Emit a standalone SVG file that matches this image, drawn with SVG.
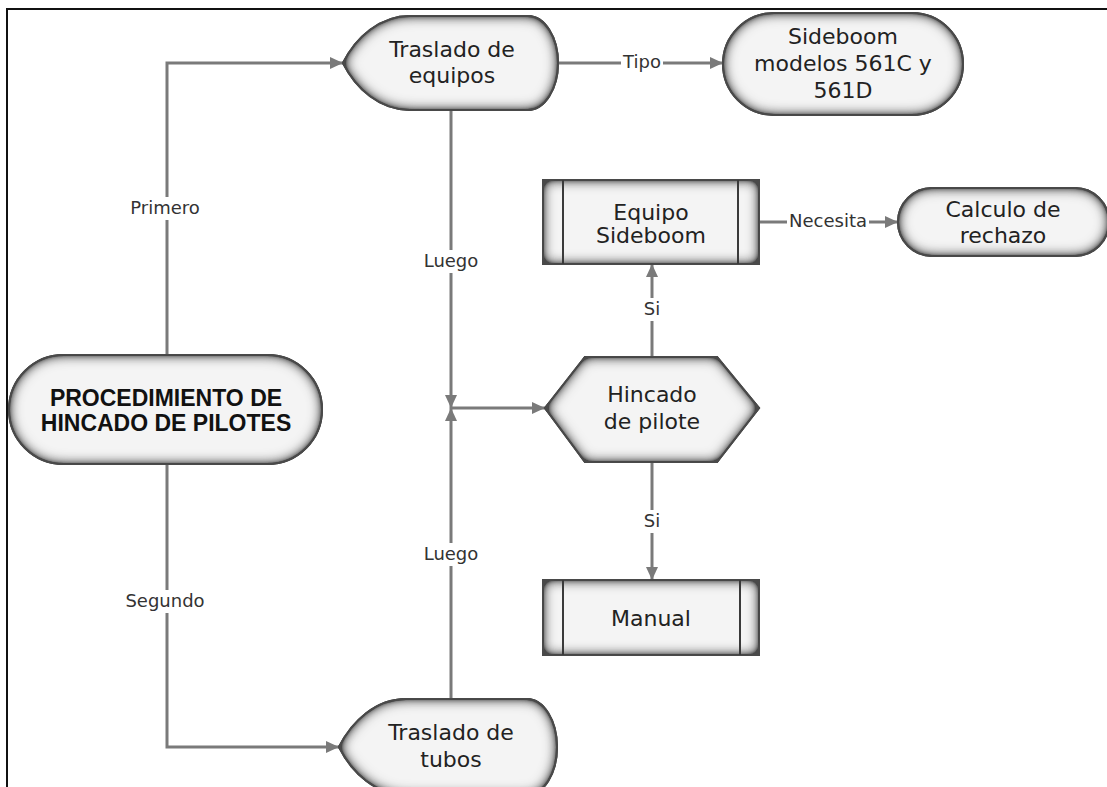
<svg xmlns="http://www.w3.org/2000/svg" width="1107" height="787" viewBox="0 0 1107 787">
  <defs>
    <style>
      .node { stroke: #3a3a3a; stroke-width: 2; fill: #f4f4f4; filter: url(#inset); }
      .inner { stroke: #3a3a3a; stroke-width: 2; fill: none; }
      .txt { font-family: "DejaVu Sans", "Liberation Sans", sans-serif; font-size: 22px; fill: #222; text-anchor: middle; }
      .title { font-family: "Liberation Sans", Arial, sans-serif; font-size: 23px; font-weight: bold; fill: #111; text-anchor: middle; }
      .wire { stroke: #7a7a7a; stroke-width: 3; fill: none; }
      .lbl { font-family: "DejaVu Sans", "Liberation Sans", sans-serif; font-size: 18px; fill: #333; text-anchor: middle; }
      .lblbg { fill: #ffffff; }
    </style>
    <!-- soft inner shadow along the inside of each shape outline -->
    <filter id="inset" x="-5%" y="-5%" width="110%" height="110%">
      <feGaussianBlur in="SourceAlpha" stdDeviation="7" result="blur"/>
      <feComposite in="SourceAlpha" in2="blur" operator="out" result="rim0"/>
      <feComponentTransfer in="rim0" result="rim">
        <feFuncA type="linear" slope="2.2" intercept="0"/>
      </feComponentTransfer>
      <feFlood flood-color="#4a4a4a"/>
      <feComposite in2="rim" operator="in" result="shadow"/>
      <feMerge>
        <feMergeNode in="SourceGraphic"/>
        <feMergeNode in="shadow"/>
      </feMerge>
    </filter>
    <marker id="arrow" markerUnits="userSpaceOnUse" markerWidth="13" markerHeight="12" refX="13" refY="6" orient="auto">
      <path d="M0,0 L13,6 L0,12 z" fill="#7a7a7a"/>
    </marker>
  </defs>

  <rect width="1107" height="787" fill="#ffffff"/>

  <!-- outer frame (top and left edges) -->
  <path d="M7,787 V9 H1107" fill="none" stroke="#111" stroke-width="2"/>

  <!-- connectors -->
  <g id="connectors">
    <path class="wire" d="M167,355 V63 H343" marker-end="url(#arrow)"/>
    <path class="wire" d="M167,464 V747 H339" marker-end="url(#arrow)"/>
    <path class="wire" d="M558,63 H723" marker-end="url(#arrow)"/>
    <path class="wire" d="M451,110 V408" marker-end="url(#arrow)"/>
    <path class="wire" d="M451,699 V408" marker-end="url(#arrow)"/>
    <path class="wire" d="M451,408 H545" marker-end="url(#arrow)"/>
    <path class="wire" d="M652,357 V264" marker-end="url(#arrow)"/>
    <path class="wire" d="M652,462 V580" marker-end="url(#arrow)"/>
    <path class="wire" d="M759,222 H898" marker-end="url(#arrow)"/>

    <rect class="lblbg" x="125" y="197" width="80" height="23"/>
    <text class="lbl" x="165" y="214">Primero</text>
    <rect class="lblbg" x="124" y="590" width="83" height="23"/>
    <text class="lbl" x="165" y="607">Segundo</text>
    <rect class="lblbg" x="421" y="250" width="60" height="23"/>
    <text class="lbl" x="451" y="267">Luego</text>
    <rect class="lblbg" x="421" y="543" width="60" height="23"/>
    <text class="lbl" x="451" y="560">Luego</text>
    <rect class="lblbg" x="641" y="298" width="22" height="23"/>
    <text class="lbl" x="652" y="315">Si</text>
    <rect class="lblbg" x="641" y="510" width="22" height="23"/>
    <text class="lbl" x="652" y="527">Si</text>
    <rect class="lblbg" x="621" y="51" width="42" height="23"/>
    <text class="lbl" x="642" y="68">Tipo</text>
    <rect class="lblbg" x="787" y="210" width="82" height="23"/>
    <text class="lbl" x="828" y="227">Necesita</text>
  </g>

  <g id="procedimiento">
    <rect class="node" x="9" y="355" width="313" height="109" rx="54.5" ry="54.5"/>
    <text class="title" x="166" y="406">PROCEDIMIENTO DE</text>
    <text class="title" x="166" y="431">HINCADO DE PILOTES</text>
  </g>

  <g id="traslado-equipos">
    <path class="node" d="M343,63 C356,37 380,16 410,16 L528,16 A30,47 0 0 1 528,110 L410,110 C380,110 356,89 343,63 Z"/>
    <text class="txt" x="452" y="57">Traslado de</text>
    <text class="txt" x="452" y="83">equipos</text>
  </g>

  <g id="traslado-tubos">
    <path class="node" d="M339,747 C352,721 376,699 406,699 L527,699 A30,48 0 0 1 527,795 L406,795 C376,795 352,773 339,747 Z"/>
    <text class="txt" x="451" y="740">Traslado de</text>
    <text class="txt" x="451" y="767">tubos</text>
  </g>

  <g id="sideboom-modelos">
    <rect class="node" x="723" y="13" width="240" height="102" rx="51" ry="51"/>
    <text class="txt" x="843" y="44">Sideboom</text>
    <text class="txt" x="843" y="71">modelos 561C y</text>
    <text class="txt" x="843" y="98">561D</text>
  </g>

  <g id="equipo-sideboom">
    <rect class="node" x="543" y="180" width="216" height="84"/>
    <path class="inner" d="M563,180 V264 M738,180 V264"/>
    <text class="txt" x="651" y="220">Equipo</text>
    <text class="txt" x="651" y="243">Sideboom</text>
  </g>

  <g id="calculo-rechazo">
    <rect class="node" x="898" y="188" width="211" height="68" rx="34" ry="34"/>
    <text class="txt" x="1003" y="217">Calculo de</text>
    <text class="txt" x="1003" y="243">rechazo</text>
  </g>

  <g id="hincado-pilote">
    <path class="node" d="M545,408 L585,357 L717,357 L759,408 L717,462 L585,462 Z"/>
    <text class="txt" x="652" y="402">Hincado</text>
    <text class="txt" x="652" y="429">de pilote</text>
  </g>

  <g id="manual">
    <rect class="node" x="543" y="580" width="216" height="75"/>
    <path class="inner" d="M563,580 V655 M740,580 V655"/>
    <text class="txt" x="651" y="626">Manual</text>
  </g>
</svg>
